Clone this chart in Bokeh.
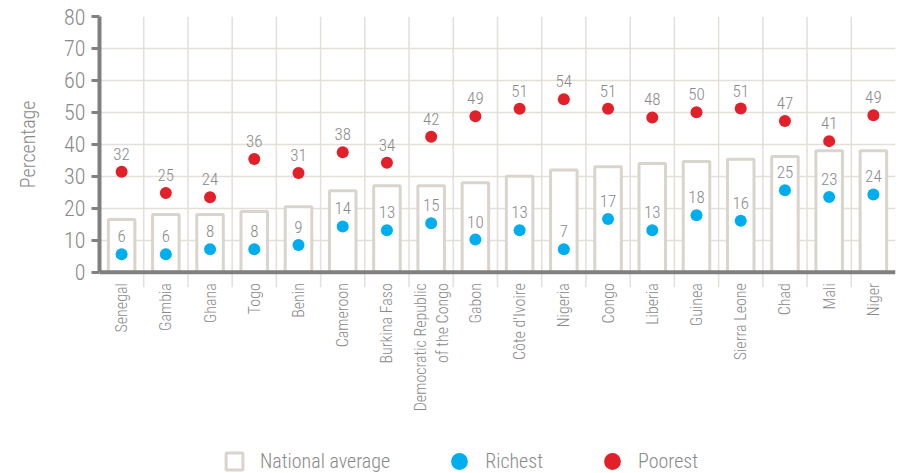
import math
from bokeh.plotting import figure
from bokeh.models import (ColumnDataSource, Range1d, FixedTicker, LinearAxis,
                          Legend, LegendItem, Span, Title)
from bokeh.embed import file_html
from bokeh.resources import INLINE
from bokeh.core.properties import value

countries = ["Senegal", "Gambia", "Ghana", "Togo", "Benin", "Cameroon",
             "Burkina Faso", "Democratic Republic\nof the Congo", "Gabon",
             "Côte d'Ivoire", "Nigeria", "Congo", "Liberia", "Guinea",
             "Sierra Leone", "Chad", "Mali", "Niger"]
national = [16.5, 18, 18, 19, 20.5, 25.5, 27, 27, 28, 30, 32, 33, 34, 34.6,
            35.3, 36.2, 38, 38]
richest = [5.6, 5.6, 7.2, 7.2, 8.5, 14.3, 13.1, 15.3, 10.2, 13.1, 7.2, 16.6,
           13.1, 17.8, 16.1, 25.6, 23.5, 24.3]
poorest = [31.4, 24.8, 23.4, 35.4, 31.0, 37.5, 34.2, 42.4, 48.8, 51.1, 54.1,
           51.1, 48.4, 50.0, 51.2, 47.3, 41.0, 49.1]
richest_labels = ["6", "6", "8", "8", "9", "14", "13", "15", "10", "13", "7",
                  "17", "13", "18", "16", "25", "23", "24"]
poorest_labels = ["32", "25", "24", "36", "31", "38", "34", "42", "49", "51",
                  "54", "51", "48", "50", "51", "47", "41", "49"]
y_ticks = [0, 10, 20, 30, 40, 50, 60, 70, 80]

FONT = "Roboto Condensed Light, Roboto Condensed"
TXT = "#8a8a8a"
AXIS = "#808080"
GRID = "#e3dfd9"
BAR = "#d9d4cc"
BLUE = "#00aeef"
RED = "#e2202a"

Y_BOTTOM = -62.7      # room below the axis for the category labels and legend
SEP_BOTTOM = -4.7     # separators reach a little below the axis

n = len(countries)
pos = list(range(1, n + 1))
seps = [i + 0.5 for i in pos[:-1]]

src = ColumnDataSource(dict(x=pos, country=countries, national=national,
                            richest=richest, poorest=poorest,
                            rl=richest_labels, pl=poorest_labels))

p = figure(frame_width=796, frame_height=456, output_backend="svg",
           toolbar_location=None, x_range=Range1d(0.5, n + 0.5),
           y_range=Range1d(Y_BOTTOM, y_ticks[-1]), x_axis_location=None,
           y_axis_location=None, min_border_left=99, min_border_top=16,
           min_border_right=2, min_border_bottom=0)
p.outline_line_color = None
p.background_fill_color = "white"
p.border_fill_color = "white"

# grid
p.xgrid.visible = False
p.ygrid.ticker = FixedTicker(ticks=y_ticks[1:-1])
p.ygrid.grid_line_color = GRID
p.ygrid.grid_line_width = 1.5
p.segment(x0=seps, y0=SEP_BOTTOM, x1=seps, y1=y_ticks[-1],
          line_color=GRID, line_width=1.5)

# y axis
yax = LinearAxis(ticker=FixedTicker(ticks=y_ticks, minor_ticks=[]),
                 bounds=(y_ticks[0], y_ticks[-1]))
yax.axis_line_color = AXIS
yax.axis_line_width = 4
yax.major_tick_line_color = AXIS
yax.major_tick_line_width = 3
yax.major_tick_out = 8
yax.major_tick_in = 0
yax.minor_tick_line_color = None
yax.major_label_standoff = 6
yax.major_label_text_font = FONT
yax.major_label_text_font_size = "22px"
yax.major_label_text_color = TXT
yax.axis_label = " "
yax.axis_label_text_font_size = "1px"
yax.axis_label_standoff = 16
p.add_layout(yax, "left")

# y axis title, placed along the 0-80 span
ytitle = Title(text="Percentage", align="right", vertical_align="middle",
               offset=84, standoff=0, text_font=FONT, text_font_size="20px",
               text_font_style="normal", text_color=TXT)
p.add_layout(ytitle, "left")

# x axis line
p.add_layout(Span(location=0, dimension="width", line_color=AXIS,
                  line_width=4))

# category labels
p.text(x="x", y=0, text="country", source=src, angle=math.pi / 2,
       text_align="right", text_baseline="middle", y_offset=11,
       text_font=value(FONT), text_font_size="16px", text_color=TXT,
       text_line_height=1.15)

bars = p.vbar(x="x", top="national", bottom=0, width=0.6, source=src,
              fill_color="white", line_color=BAR, line_width=3)
rich = p.scatter(x="x", y="richest", source=src, size=12, fill_color=BLUE,
                 line_color=None)
poor = p.scatter(x="x", y="poorest", source=src, size=12, fill_color=RED,
                 line_color=None)

for col, lab in (("richest", "rl"), ("poorest", "pl")):
    p.text(x="x", y=col, text=lab, source=src, text_align="center",
           text_baseline="alphabetic", y_offset=-18,
           text_font=value(FONT), text_font_size="17px", text_color=TXT)

# legend proxy for the bars (a square that is never drawn on the chart)
sq = p.scatter(x=[pos[0]], y=[float("nan")], marker="square",
               fill_color="white", line_color=BAR, line_width=3)

legend = Legend(items=[LegendItem(label="National average", renderers=[sq]),
                       LegendItem(label="Richest", renderers=[rich]),
                       LegendItem(label="Poorest", renderers=[poor])],
                orientation="horizontal", location=(114, -10),
                glyph_width=42, glyph_height=42, label_standoff=5,
                spacing=48, padding=0, margin=0,
                label_text_font=FONT, label_text_font_size="20px",
                label_text_color=TXT, border_line_color=None,
                background_fill_alpha=0)
p.add_layout(legend, "center")

open("out.html", "w").write(file_html(p, INLINE))
